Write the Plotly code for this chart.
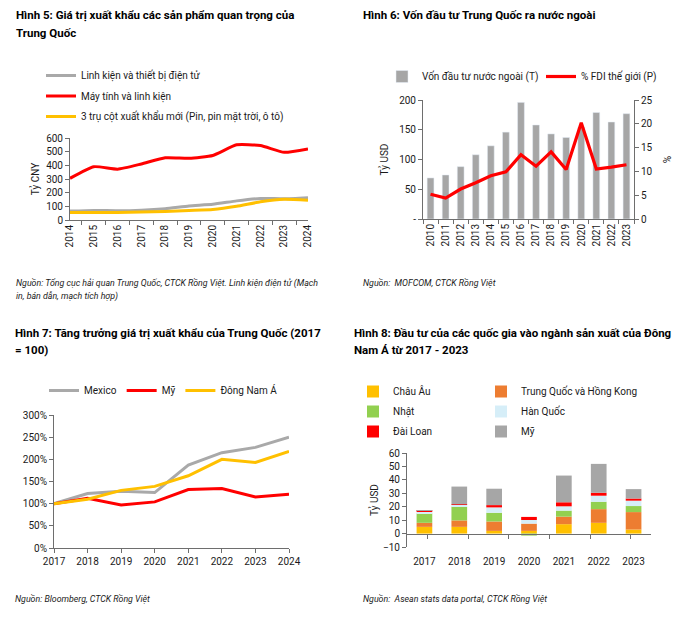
import plotly.graph_objects as go

W, H = 691, 618
OFF = 8  # page offset of the figure in the browser (body margin)
def px(x): return (x - OFF) / W
def py(y): return 1 - (y - OFF) / H

FONT = "Roboto"
AX = "#6e6e6e"
TXT = "#1a1a1a"

# ---------------- Panel 1 data ----------------
years1 = ["2014", "2015", "2016", "2017", "2018", "2019", "2020", "2021", "2022", "2023", "2024"]
linh_kien = [65, 70, 68, 72, 83, 103, 115, 140, 158, 155, 163]
may_tinh = [305, 390, 372, 410, 455, 452, 472, 550, 545, 495, 520]
tru_cot = [55, 55, 55, 58, 63, 70, 77, 100, 133, 152, 145]

# ---------------- Panel 2 data ----------------
years2 = ["2010", "2011", "2012", "2013", "2014", "2015", "2016", "2017", "2018", "2019", "2020", "2021", "2022", "2023"]
von_dau_tu = [69, 74, 88, 108, 123, 146, 196, 158, 143, 137, 154, 179, 163, 177]
fdi_pct = [5.2, 4.4, 6.3, 7.6, 9.1, 9.9, 13.5, 11.1, 14.1, 10.4, 20.2, 10.5, 10.9, 11.4]
y2_ticks = [0, 50, 100, 150, 200]
y2_ticktext = ["-", "50", "100", "150", "200"]

# ---------------- Panel 3 data ----------------
years3 = [2017, 2018, 2019, 2020, 2021, 2022, 2023, 2024]
mexico = [100, 123, 128, 125, 187, 215, 227, 250]
my = [100, 112, 97, 104, 132, 134, 115, 121]
dna = [100, 110, 130, 139, 163, 200, 193, 218]

# ---------------- Panel 4 data ----------------
years4 = ["2017", "2018", "2019", "2020", "2021", "2022", "2023"]
chau_au = [5, 5, 2, 2, 7, 8, 3]
tq_hk = [3, 4.8, 7, 5.4, 5.6, 10.2, 13]
nhat = [7, 10.2, 6.5, -1.5, 4.5, 5.5, 4.5]
han_quoc = [1.4, 1.4, 4, 2.7, 3.2, 4.5, 4]
dai_loan = [0.6, 0.4, 1.7, 2.3, 3, 2.2, 1.6]
my4 = [0.4, 13.2, 12.2, 0, 19.9, 21.5, 7]

fig = go.Figure()

# Panel 1
for name, vals, col in [("Linh kiện và thiết bị điện tử", linh_kien, "#a9a9a9"),
                        ("Máy tính và linh kiện", may_tinh, "#ff0000"),
                        ("3 trụ cột xuất khẩu mới (Pin, pin mặt trời, ô tô)", tru_cot, "#ffc000")]:
    fig.add_trace(go.Scatter(x=years1, y=vals, name=name, mode="lines",
                             line=dict(color=col, width=3, shape="spline", smoothing=0.5),
                             xaxis="x", yaxis="y", legend="legend", legendgroup=name))

# Panel 2
fig.add_trace(go.Bar(x=years2, y=von_dau_tu, name="Vốn đầu tư nước ngoài (T)",
                     marker=dict(color="#a6a6a6"), xaxis="x2", yaxis="y2", legend="legend2"))
fig.add_trace(go.Scatter(x=years2, y=fdi_pct, name="% FDI thế giới (P)", mode="lines",
                         line=dict(color="#ff0000", width=3.2), xaxis="x2", yaxis="y5", legend="legend6"))

# Panel 3
for name, vals, col in [("Mexico", mexico, "#a9a9a9"), ("Mỹ", my, "#ff0000"), ("Đông Nam Á", dna, "#ffc000")]:
    fig.add_trace(go.Scatter(x=years3, y=vals, name=name, mode="lines",
                             line=dict(color=col, width=3), xaxis="x3", yaxis="y3", legend="legend3"))

# Panel 4
series4 = [("Châu Âu", chau_au, "#ffc000", "legend4"),
           ("Trung Quốc và Hồng Kong", tq_hk, "#ed7d31", "legend5"),
           ("Nhật", nhat, "#92d050", "legend4"),
           ("Hàn Quốc", han_quoc, "#d6eef8", "legend5"),
           ("Đài Loan", dai_loan, "#ff0000", "legend4"),
           ("Mỹ", my4, "#a6a6a6", "legend5")]
for name, vals, col, lg in series4:
    fig.add_trace(go.Bar(x=years4, y=vals, name=name, marker=dict(color=col, line=dict(width=0)),
                         xaxis="x4", yaxis="y4", legend=lg, legendgroup=name))
fig.add_trace(go.Scatter(x=years4, y=[None] * len(years4), xaxis="x6", yaxis="y4",
                         showlegend=False, hoverinfo="skip", mode="lines"))

tickfont = dict(family=FONT, size=10, color=TXT)
common_ax = dict(showgrid=False, zeroline=False, showline=True, linecolor=AX, linewidth=1,
                 ticks="outside", tickcolor=AX, ticklen=4, tickfont=tickfont, automargin=False)
tfont = dict(family=FONT, size=10, color=TXT)

layout = dict(
    width=W, height=H, margin=dict(l=0, r=0, t=0, b=0, autoexpand=False),
    paper_bgcolor="white", plot_bgcolor="white",
    font=dict(family=FONT, size=10, color=TXT),
    barmode="relative",
    bargap=0.55,
    showlegend=True,
    # Panel 1
    xaxis=dict(common_ax, domain=[px(70), px(308)], anchor="y", type="category",
               tickson="boundaries", tickangle=-90, tickmode="array", tickvals=years1),
    yaxis=dict(common_ax, domain=[py(220), py(138)], anchor="x", range=[0, 600], dtick=100,
               title=dict(text="Tỷ CNY", font=tfont, standoff=4)),
    # Panel 2
    xaxis2=dict(common_ax, domain=[px(423), px(634)], anchor="y2", type="category",
                tickson="boundaries", tickangle=-90, tickmode="array", tickvals=years2),
    yaxis2=dict(common_ax, domain=[py(219), py(100)], anchor="x2", range=[0, 200],
                tickvals=y2_ticks, ticktext=y2_ticktext,
                title=dict(text="Tỷ USD", font=tfont, standoff=8)),
    yaxis5=dict(common_ax, overlaying="y2", side="right", anchor="x2", range=[0, 25], dtick=5,
                title=dict(text="%", font=tfont, standoff=12)),
    # Panel 3
    xaxis3=dict(common_ax, domain=[px(54), px(289)], anchor="y3", range=[2017, 2024],
                tickvals=years3, ticktext=[str(v) for v in years3]),
    yaxis3=dict(common_ax, domain=[py(548), py(415)], anchor="x3", range=[0, 300], dtick=50,
                ticksuffix="%"),
    # Panel 4
    xaxis4=dict(showgrid=False, zeroline=False, showline=False, ticks="", tickfont=tickfont,
                domain=[px(407), px(651)], anchor="y4", type="category", automargin=False,
                ticklabelstandoff=7),
    xaxis6=dict(showgrid=False, zeroline=False, showline=True, linecolor=AX, ticks="outside",
                tickcolor=AX, ticklen=4, showticklabels=False, overlaying="x4", anchor="free",
                position=py(534), type="category", tickson="boundaries", automargin=False,
                categoryorder="array", categoryarray=years4),
    yaxis4=dict(common_ax, domain=[py(547), py(453)], anchor="x4", range=[-10, 60], dtick=10,
                title=dict(text="Tỷ USD", font=tfont, standoff=2)),
    legend=dict(x=px(41), y=py(61), xanchor="left", yanchor="top", orientation="v",
                font=tfont, bgcolor="rgba(0,0,0,0)", tracegroupgap=1.5, traceorder="grouped"),
    legend2=dict(x=px(382), y=py(62), xanchor="left", yanchor="top", orientation="h",
                 font=tfont, bgcolor="rgba(0,0,0,0)"),
    legend6=dict(x=px(541), y=py(62), xanchor="left", yanchor="top", orientation="h",
                 font=tfont, bgcolor="rgba(0,0,0,0)"),
    legend3=dict(x=px(44), y=py(376), xanchor="left", yanchor="top", orientation="h",
                 font=tfont, bgcolor="rgba(0,0,0,0)"),
    legend4=dict(x=px(353), y=py(377), xanchor="left", yanchor="top", orientation="v",
                 font=tfont, bgcolor="rgba(0,0,0,0)", tracegroupgap=1, traceorder="grouped"),
    legend5=dict(x=px(481), y=py(377), xanchor="left", yanchor="top", orientation="v",
                 font=tfont, bgcolor="rgba(0,0,0,0)", tracegroupgap=1, traceorder="grouped"),
)
fig.update_layout(**layout)

title_font = dict(family=FONT, size=11.5, color="#000000")
src_font = dict(family=FONT, size=8.8, color=TXT)
texts = [
    ("<b>Hình 5: Giá trị xuất khẩu các sản phẩm quan trọng của</b>", 14, 15, title_font),
    ("<b>Trung Quốc</b>", 14, 33, title_font),
    ("<b>Hình 6: Vốn đầu tư Trung Quốc ra nước ngoài</b>", 361, 15, title_font),
    ("<b>Hình 7: Tăng trưởng giá trị xuất khẩu của Trung Quốc (2017</b>", 13, 333, title_font),
    ("<b>= 100)</b>", 13, 350, title_font),
    ("<b>Hình 8: Đầu tư của các quốc gia vào ngành sản xuất của Đông</b>", 352, 333, title_font),
    ("<b>Nam Á từ 2017 - 2023</b>", 352, 350, title_font),
    ("<i>Nguồn: Tổng cục hải quan Trung Quốc, CTCK Rồng Việt. Linh kiện điện tử (Mạch</i>", 14, 283, src_font),
    ("<i>in, bán dẫn, mạch tích hợp)</i>", 14, 296, src_font),
    ("<i>Nguồn:  MOFCOM, CTCK Rồng Việt</i>", 361, 283, src_font),
    ("<i>Nguồn: Bloomberg, CTCK Rồng Việt</i>", 13, 599, src_font),
    ("<i>Nguồn:  Asean stats data portal, CTCK Rồng Việt</i>", 361, 599, src_font),
]
for t, x, y, f in texts:
    fig.add_annotation(text=t, x=px(x), y=py(y), xref="paper", yref="paper",
                       xanchor="left", yanchor="middle", showarrow=False, font=f)

fig.write_html("out.html")
